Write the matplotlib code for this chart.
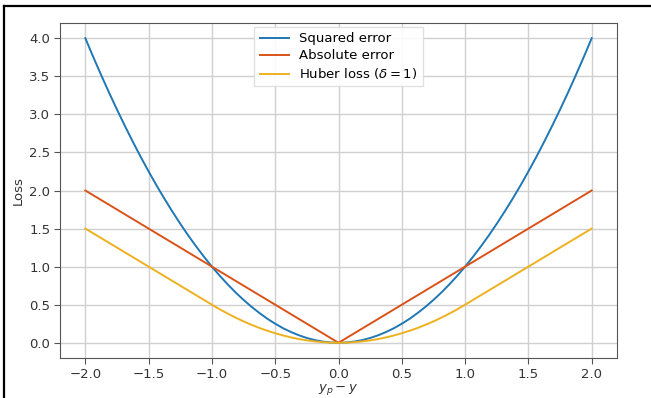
import matplotlib
matplotlib.use("Agg")
import matplotlib.pyplot as plt
from matplotlib.lines import Line2D

# values for x >= 0 (step 1/16); all three curves
# are symmetric about x = 0, so the left half is the mirror image
x_half = [0.0, 0.0625, 0.125, 0.1875, 0.25, 0.3125, 0.375, 0.4375, 0.5,
          0.5625, 0.625, 0.6875, 0.75, 0.8125, 0.875, 0.9375, 1.0,
          1.0625, 1.125, 1.1875, 1.25, 1.3125, 1.375, 1.4375, 1.5,
          1.5625, 1.625, 1.6875, 1.75, 1.8125, 1.875, 1.9375, 2.0]
squared_half = [0.0, 0.004, 0.016, 0.035, 0.063, 0.098, 0.141, 0.191, 0.25,
                0.316, 0.391, 0.473, 0.563, 0.66, 0.766, 0.879, 1.0,
                1.129, 1.266, 1.41, 1.563, 1.723, 1.891, 2.066, 2.25,
                2.441, 2.641, 2.848, 3.063, 3.285, 3.516, 3.754, 4.0]
absolute_half = [0.0, 0.0625, 0.125, 0.1875, 0.25, 0.3125, 0.375, 0.4375, 0.5,
                 0.5625, 0.625, 0.6875, 0.75, 0.8125, 0.875, 0.9375, 1.0,
                 1.0625, 1.125, 1.1875, 1.25, 1.3125, 1.375, 1.4375, 1.5,
                 1.5625, 1.625, 1.6875, 1.75, 1.8125, 1.875, 1.9375, 2.0]
huber_half = [0.0, 0.002, 0.008, 0.018, 0.031, 0.049, 0.07, 0.096, 0.125,
              0.158, 0.195, 0.236, 0.281, 0.33, 0.383, 0.439, 0.5,
              0.5625, 0.625, 0.6875, 0.75, 0.8125, 0.875, 0.9375, 1.0,
              1.0625, 1.125, 1.1875, 1.25, 1.3125, 1.375, 1.4375, 1.5]

xticks = [-2.0, -1.5, -1.0, -0.5, 0.0, 0.5, 1.0, 1.5, 2.0]
yticks = [0.0, 0.5, 1.0, 1.5, 2.0, 2.5, 3.0, 3.5, 4.0]


def mirror(vals, negate=False):
    left = [-v for v in vals[:0:-1]] if negate else vals[:0:-1]
    return left + vals


x = mirror(x_half, negate=True)
squared = mirror(squared_half)
absolute = mirror(absolute_half)
huber = mirror(huber_half)

fig = plt.figure(figsize=(6.51, 3.98), dpi=100)
ax = fig.add_axes([0.0922, 0.1005, 0.8556, 0.8417])

ax.plot(x, squared, color="#1f77b4", lw=1.4, label="Squared error")
ax.plot(x, absolute, color="#d95319", lw=1.4, label="Absolute error")
ax.plot(x, huber, color="#edb120", lw=1.4, label=r"Huber loss ($\delta = 1$)")

ax.set_xlim(-2.2, 2.2)
ax.set_ylim(-0.2, 4.2)
ax.set_xticks(xticks)
ax.set_yticks(yticks)
ax.set_xticklabels([f"{v:.1f}".replace("-", "\u2212") for v in xticks])
ax.set_yticklabels([f"{v:.1f}" for v in yticks])
ax.grid(True, color="#d0d0d0", lw=1.0)
ax.set_axisbelow(True)
for s in ax.spines.values():
    s.set_color("#555555")
ax.tick_params(colors="#333333", labelsize=9.5, length=4, color="#555555",
               pad=3)
ax.set_xlabel(r"$y_p - y$", fontsize=9.5, color="#333333", labelpad=1)
ax.set_ylabel("Loss", fontsize=9.5, color="#333333", labelpad=3)
ax.legend(loc="upper center", fontsize=9.5, framealpha=0.9,
          edgecolor="#dddddd", fancybox=False, handlelength=2.2,
          labelspacing=0.3, borderaxespad=0.3)

# black frame lines (left and top) around the screenshot
fig.add_artist(Line2D([0.006, 0.006], [0.0, 0.984], color="black", lw=1.6))
fig.add_artist(Line2D([0.006, 1.0], [0.984, 0.984], color="black", lw=1.6))

fig.savefig("out.png", dpi=100)
